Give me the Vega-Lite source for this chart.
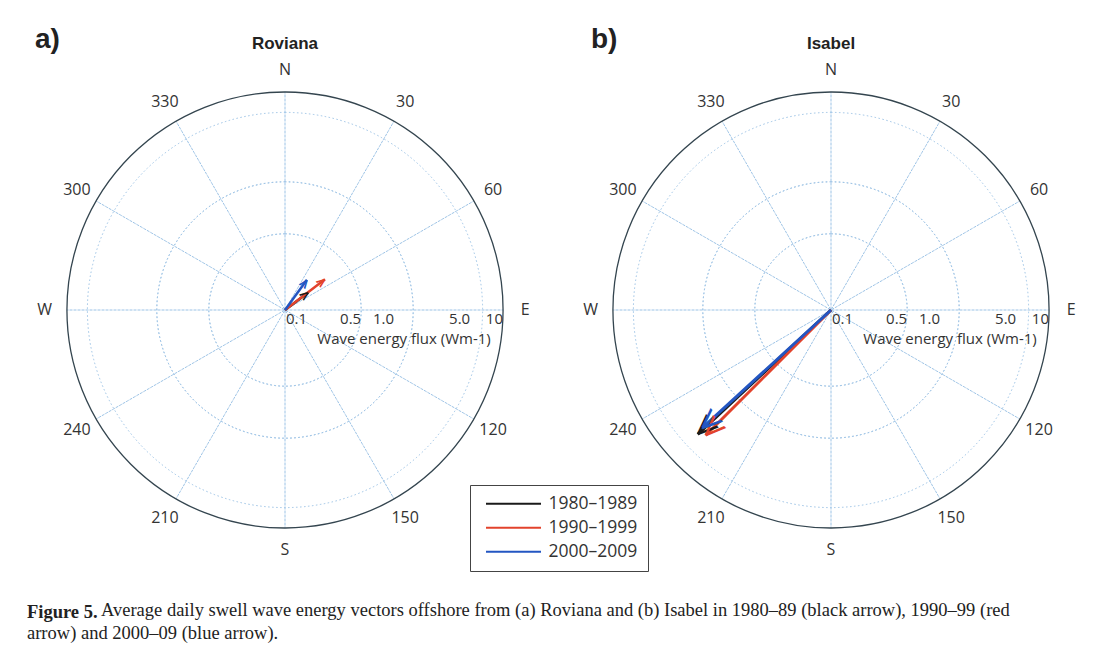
{
  "$schema": "https://vega.github.io/schema/vega-lite/v6.json",
  "background": "white",
  "padding": {"left": 25, "top": 26, "right": 5, "bottom": 5},
  "config": {
    "view": {"stroke": null},
    "font": "Open Sans"
  },
  "datasets": {
    "arrows": [
      {"site": "Roviana", "period": "1980–1989", "dir": 53, "flux": 0.185},
      {"site": "Roviana", "period": "1990–1999", "dir": 52.5, "flux": 0.29},
      {"site": "Roviana", "period": "2000–2009", "dir": 36, "flux": 0.22},
      {"site": "Isabel", "period": "1980–1989", "dir": 227, "flux": 4.7},
      {"site": "Isabel", "period": "1990–1999", "dir": 225, "flux": 4.25},
      {"site": "Isabel", "period": "2000–2009", "dir": 227.5, "flux": 4.05}
    ],
    "compass": [
      {"a": 0, "lab": "N"}, {"a": 30, "lab": "30"}, {"a": 60, "lab": "60"},
      {"a": 90, "lab": "E"}, {"a": 120, "lab": "120"}, {"a": 150, "lab": "150"},
      {"a": 180, "lab": "S"}, {"a": 210, "lab": "210"}, {"a": 240, "lab": "240"},
      {"a": 270, "lab": "W"}, {"a": 300, "lab": "300"}, {"a": 330, "lab": "330"}
    ],
    "spokes": [
      {"a": 0}, {"a": 30}, {"a": 60}, {"a": 90}, {"a": 120}, {"a": 150},
      {"a": 180}, {"a": 210}, {"a": 240}, {"a": 270}, {"a": 300}, {"a": 330}
    ],
    "rings": [{"ring": 0.5}, {"ring": 1}, {"ring": 5}],
    "outer": [{"ring": 10}],
    "rticks": [
      {"v": 0.5, "lab": "0.5"}, {"v": 1, "lab": "1.0"}, {"v": 5, "lab": "5.0"}, {"v": 10, "lab": "10"}
    ],
    "rzero": [{"v": 0.1, "lab": "0.1"}],
    "rtitle": [{"v": 1.236, "lab": "Wave energy flux (Wm-1)"}]
  },
  "title": {
    "text": "Figure 5.",
    "subtitle": [
      "\u2060\u2003\u2003\u2003\u2003Average daily swell wave energy vectors offshore from (a) Roviana and (b) Isabel in 1980–89 (black arrow), 1990–99 (red",
      "arrow) and 2000–09 (blue arrow)."
    ],
    "orient": "bottom",
    "anchor": "start",
    "frame": "bounds",
    "font": "Liberation Serif",
    "fontSize": 18.5,
    "fontWeight": "bold",
    "color": "#222",
    "subtitleFont": "Liberation Serif",
    "subtitleFontSize": 18.5,
    "subtitleColor": "#222",
    "subtitlePadding": -20.5,
    "subtitleLineHeight": 23,
    "offset": 31,
    "dx": 2
  },
  "spacing": 26,
  "hconcat": [
    {
      "title": {"text": "a)", "anchor": "start", "frame": "group", "font": "Liberation Sans", "fontSize": 28, "fontWeight": "bold", "color": "#222", "dx": 10, "dy": 41, "offset": 0, "baseline": "alphabetic"},
      "vconcat": [
        {
          "width": 520,
          "height": 500,
          "title": {"text": "Roviana", "anchor": "middle", "frame": "group", "font": "Liberation Sans", "fontSize": 17, "fontWeight": "bold", "color": "#222", "baseline": "alphabetic", "offset": -6},
          "layer": [
            {
              "data": {"name": "rings"},
              "mark": {"type": "arc", "filled": false, "theta": 0, "theta2": 6.2832, "stroke": "#9cc3e6", "strokeWidth": 1, "strokeDash": [1.5, 2.5]},
              "encoding": {"radius": {"field": "ring", "type": "quantitative", "scale": {"type": "log", "domain": [0.1, 10], "range": [0, 218]}}}
            },
            {
              "data": {"name": "spokes"},
              "mark": {"type": "arc", "filled": false, "stroke": "#9cc3e6", "strokeWidth": 1, "strokeDash": [1.5, 2.5]},
              "encoding": {
                "theta": {"field": "a", "type": "quantitative", "stack": false, "scale": {"domain": [0, 360], "range": [0, 6.283185307]}},
                "theta2": {"field": "a"},
                "radius": {"datum": 10, "type": "quantitative", "scale": {"type": "log", "domain": [0.1, 10], "range": [0, 218]}}
              }
            },
            {
              "data": {"name": "outer"},
              "mark": {"type": "arc", "filled": false, "theta": 0, "theta2": 6.2832, "stroke": "#34454f", "strokeWidth": 1.3},
              "encoding": {"radius": {"field": "ring", "type": "quantitative", "scale": {"type": "log", "domain": [0.1, 10], "range": [0, 218]}}}
            },
            {
              "data": {"name": "compass"},
              "mark": {"type": "text", "fontSize": 16, "color": "#333"},
              "encoding": {
                "theta": {"field": "a", "type": "quantitative", "stack": false, "scale": {"domain": [0, 360], "range": [0, 6.283185307]}},
                "radius": {"datum": 16, "type": "quantitative", "scale": {"type": "log", "domain": [0.1, 10], "range": [0, 218]}},
                "text": {"field": "lab"}
              }
            },
            {
              "data": {"name": "rticks"},
              "mark": {"type": "text", "fontSize": 15, "color": "#333", "align": "right", "baseline": "top", "dy": 2},
              "encoding": {
                "theta": {"datum": 90, "type": "quantitative", "stack": false, "scale": {"domain": [0, 360], "range": [0, 6.283185307]}},
                "radius": {"field": "v", "type": "quantitative", "scale": {"type": "log", "domain": [0.1, 10], "range": [0, 218]}},
                "text": {"field": "lab"}
              }
            },
            {
              "data": {"name": "rzero"},
              "mark": {"type": "text", "fontSize": 15, "color": "#333", "align": "left", "baseline": "top", "dy": 2, "dx": 1},
              "encoding": {
                "theta": {"datum": 90, "type": "quantitative", "stack": false, "scale": {"domain": [0, 360], "range": [0, 6.283185307]}},
                "radius": {"field": "v", "type": "quantitative", "scale": {"type": "log", "domain": [0.1, 10], "range": [0, 218]}},
                "text": {"field": "lab"}
              }
            },
            {
              "data": {"name": "rtitle"},
              "mark": {"type": "text", "fontSize": 15, "color": "#333", "align": "center", "baseline": "middle", "dy": 29},
              "encoding": {
                "theta": {"datum": 90, "type": "quantitative", "stack": false, "scale": {"domain": [0, 360], "range": [0, 6.283185307]}},
                "radius": {"field": "v", "type": "quantitative", "scale": {"type": "log", "domain": [0.1, 10], "range": [0, 218]}},
                "text": {"field": "lab"}
              }
            },
            {
              "data": {"name": "arrows"},
              "transform": [{"filter": "datum.site === 'Roviana'"}],
              "mark": {"type": "arc", "filled": false, "strokeWidth": 2.5},
              "encoding": {
                "theta": {"field": "dir", "type": "quantitative", "stack": false, "scale": {"domain": [0, 360], "range": [0, 6.283185307]}},
                "theta2": {"field": "dir"},
                "radius": {"field": "flux", "type": "quantitative", "scale": {"type": "log", "domain": [0.1, 10], "range": [0, 218]}},
                "color": {
                  "field": "period", "type": "nominal",
                  "scale": {"domain": ["1980–1989", "1990–1999", "2000–2009"], "range": ["#1a1a1a", "#e2432c", "#2356c2"]},
                  "legend": {
                    "title": null, "orient": "none", "legendX": 445, "legendY": 425,
                    "symbolType": "M-0.5,0H9.5", "symbolSize": 121, "symbolStrokeWidth": 2.2,
                    "labelFont": "Open Sans", "labelFontSize": 17.5, "labelColor": "#333", "labelOffset": 51,
                    "rowPadding": 5, "padding": 10, "strokeColor": "#444", "fillColor": "white"
                  }
                }
              }
            },
            {
              "data": {"name": "arrows"},
              "transform": [{"filter": "datum.site === 'Roviana'"}],
              "mark": {"type": "text", "text": "Λ", "font": "Liberation Sans", "fontWeight": "bold", "fontSize": 12, "align": "center", "baseline": "alphabetic", "dy": 8.6},
              "encoding": {
                "theta": {"field": "dir", "type": "quantitative", "stack": false, "scale": {"domain": [0, 360], "range": [0, 6.283185307]}},
                "radius": {"field": "flux", "type": "quantitative", "scale": {"type": "log", "domain": [0.1, 10], "range": [0, 218]}},
                "angle": {"field": "dir", "type": "quantitative", "scale": null},
                "color": {"field": "period", "type": "nominal", "scale": {"domain": ["1980–1989", "1990–1999", "2000–2009"], "range": ["#1a1a1a", "#e2432c", "#2356c2"]}}
              }
            }
          ]
        }
      ]
    },
    {
      "title": {"text": "b)", "anchor": "start", "frame": "group", "font": "Liberation Sans", "fontSize": 28, "fontWeight": "bold", "color": "#222", "dx": 20, "dy": 41, "offset": 0, "baseline": "alphabetic"},
      "vconcat": [
        {
          "width": 520,
          "height": 500,
          "title": {"text": "Isabel", "anchor": "middle", "frame": "group", "font": "Liberation Sans", "fontSize": 17, "fontWeight": "bold", "color": "#222", "baseline": "alphabetic", "offset": -6},
          "layer": [
            {
              "data": {"name": "rings"},
              "mark": {"type": "arc", "filled": false, "theta": 0, "theta2": 6.2832, "stroke": "#9cc3e6", "strokeWidth": 1, "strokeDash": [1.5, 2.5]},
              "encoding": {"radius": {"field": "ring", "type": "quantitative", "scale": {"type": "log", "domain": [0.1, 10], "range": [0, 218]}}}
            },
            {
              "data": {"name": "spokes"},
              "mark": {"type": "arc", "filled": false, "stroke": "#9cc3e6", "strokeWidth": 1, "strokeDash": [1.5, 2.5]},
              "encoding": {
                "theta": {"field": "a", "type": "quantitative", "stack": false, "scale": {"domain": [0, 360], "range": [0, 6.283185307]}},
                "theta2": {"field": "a"},
                "radius": {"datum": 10, "type": "quantitative", "scale": {"type": "log", "domain": [0.1, 10], "range": [0, 218]}}
              }
            },
            {
              "data": {"name": "outer"},
              "mark": {"type": "arc", "filled": false, "theta": 0, "theta2": 6.2832, "stroke": "#34454f", "strokeWidth": 1.3},
              "encoding": {"radius": {"field": "ring", "type": "quantitative", "scale": {"type": "log", "domain": [0.1, 10], "range": [0, 218]}}}
            },
            {
              "data": {"name": "compass"},
              "mark": {"type": "text", "fontSize": 16, "color": "#333"},
              "encoding": {
                "theta": {"field": "a", "type": "quantitative", "stack": false, "scale": {"domain": [0, 360], "range": [0, 6.283185307]}},
                "radius": {"datum": 16, "type": "quantitative", "scale": {"type": "log", "domain": [0.1, 10], "range": [0, 218]}},
                "text": {"field": "lab"}
              }
            },
            {
              "data": {"name": "rticks"},
              "mark": {"type": "text", "fontSize": 15, "color": "#333", "align": "right", "baseline": "top", "dy": 2},
              "encoding": {
                "theta": {"datum": 90, "type": "quantitative", "stack": false, "scale": {"domain": [0, 360], "range": [0, 6.283185307]}},
                "radius": {"field": "v", "type": "quantitative", "scale": {"type": "log", "domain": [0.1, 10], "range": [0, 218]}},
                "text": {"field": "lab"}
              }
            },
            {
              "data": {"name": "rzero"},
              "mark": {"type": "text", "fontSize": 15, "color": "#333", "align": "left", "baseline": "top", "dy": 2, "dx": 1},
              "encoding": {
                "theta": {"datum": 90, "type": "quantitative", "stack": false, "scale": {"domain": [0, 360], "range": [0, 6.283185307]}},
                "radius": {"field": "v", "type": "quantitative", "scale": {"type": "log", "domain": [0.1, 10], "range": [0, 218]}},
                "text": {"field": "lab"}
              }
            },
            {
              "data": {"name": "rtitle"},
              "mark": {"type": "text", "fontSize": 15, "color": "#333", "align": "center", "baseline": "middle", "dy": 29},
              "encoding": {
                "theta": {"datum": 90, "type": "quantitative", "stack": false, "scale": {"domain": [0, 360], "range": [0, 6.283185307]}},
                "radius": {"field": "v", "type": "quantitative", "scale": {"type": "log", "domain": [0.1, 10], "range": [0, 218]}},
                "text": {"field": "lab"}
              }
            },
            {
              "data": {"name": "arrows"},
              "transform": [{"filter": "datum.site === 'Isabel'"}],
              "mark": {"type": "arc", "filled": false, "strokeWidth": 3},
              "encoding": {
                "theta": {"field": "dir", "type": "quantitative", "stack": false, "scale": {"domain": [0, 360], "range": [0, 6.283185307]}},
                "theta2": {"field": "dir"},
                "radius": {"field": "flux", "type": "quantitative", "scale": {"type": "log", "domain": [0.1, 10], "range": [0, 218]}},
                "color": {"field": "period", "type": "nominal", "scale": {"domain": ["1980–1989", "1990–1999", "2000–2009"], "range": ["#1a1a1a", "#e2432c", "#2356c2"]}}
              }
            },
            {
              "data": {"name": "arrows"},
              "transform": [{"filter": "datum.site === 'Isabel'"}],
              "mark": {"type": "text", "text": "Λ", "font": "Liberation Sans", "fontSize": 28, "align": "center", "baseline": "alphabetic", "dy": 20},
              "encoding": {
                "theta": {"field": "dir", "type": "quantitative", "stack": false, "scale": {"domain": [0, 360], "range": [0, 6.283185307]}},
                "radius": {"field": "flux", "type": "quantitative", "scale": {"type": "log", "domain": [0.1, 10], "range": [0, 218]}},
                "angle": {"field": "dir", "type": "quantitative", "scale": null},
                "color": {"field": "period", "type": "nominal", "scale": {"domain": ["1980–1989", "1990–1999", "2000–2009"], "range": ["#1a1a1a", "#e2432c", "#2356c2"]}}
              }
            }
          ]
        }
      ]
    }
  ]
}
